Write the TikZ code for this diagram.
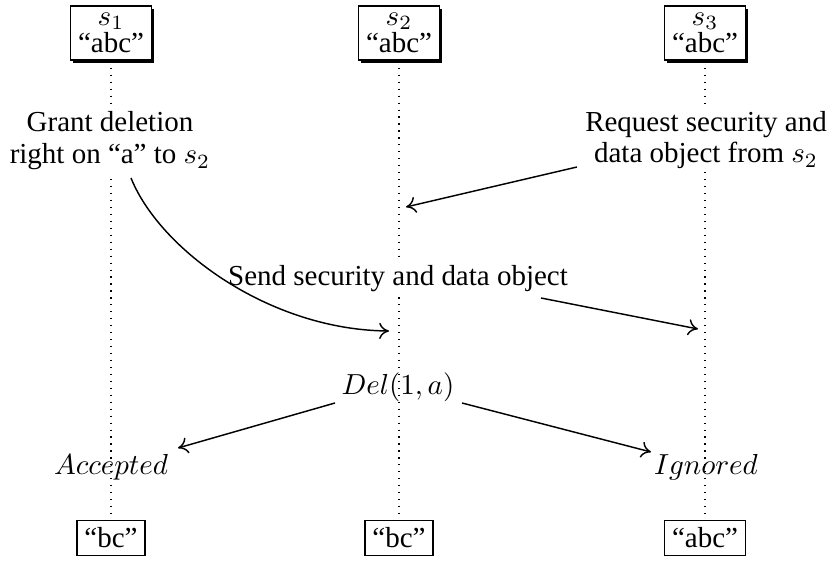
\documentclass[tikz,border=0pt]{standalone}
\usepackage{fontspec}
\setmainfont{Liberation Serif}
\usetikzlibrary{shadows,backgrounds,arrows.meta}
\begin{document}
\begin{tikzpicture}[x=0.345pt,y=-0.345pt,
  proc/.style={draw,fill=white,line width=0.5pt,inner xsep=2.6pt,inner ysep=2.4pt,align=center,
    font=\fontsize{10}{9.5}\selectfont,
    drop shadow={shadow xshift=1pt,shadow yshift=-1pt,fill=black,opacity=1}},
  state/.style={draw,fill=white,line width=0.5pt,inner sep=2.6pt},
  lbl/.style={fill=white,align=center,inner sep=1pt,font=\fontsize{10}{11}\selectfont},
  mlbl/.style={inner sep=1pt},
  life/.style={dotted,line width=0.4pt},
  msg/.style={-{To[length=3.4pt,width=5.6pt]},line width=0.5pt}]
\useasboundingbox (0,0) rectangle (829,561);
% top boxes
\node[proc] (p1) at (111,33) {$s_1$\\“abc”};
\node[proc] (p2) at (399,33) {$s_2$\\“abc”};
\node[proc] (p3) at (705,33) {$s_3$\\“abc”};
% bottom boxes
\node[state] (e1) at (111,538) {“bc”};
\node[state] (e2) at (399,538) {“bc”};
\node[state] (e3) at (705,538) {“abc”};
% labels
\node[lbl] (grant) at (110,141) {Grant deletion\\right on “a” to $s_2$};
\node[lbl] (req) at (706,140) {Request security and\\data object from $s_2$};
\node[lbl] (send) at (398,279) {Send security and data object};
\node[mlbl] (del) at (398,387) {$Del(1,a)$};
\node[mlbl] (acc) at (111,467) {$Accepted$};
\node[mlbl] (ign) at (706,467) {$Ignored$};
% lifelines
\begin{pgfonlayer}{background}
\draw[life] (p1.south) -- (e1.north);
\draw[life] (p2.south) -- (e2.north);
\draw[life] (p3.south) -- (e3.north);
\end{pgfonlayer}
% message endpoints
\coordinate (reqout) at (577,167);
\coordinate (reqin) at (406,207);
\coordinate (grantout) at (131,178);
\coordinate (grantin) at (389,331);
\coordinate (sendout) at (541,298);
\coordinate (sendin) at (698,329);
\coordinate (delL) at (335,403);
\coordinate (accin) at (178,448);
\coordinate (delR) at (462,403);
\coordinate (ignin) at (651,452);
\draw[msg] (reqout) -- (reqin);
\draw[msg] (grantout) .. controls (160,250) and (270,330) .. (grantin);
\draw[msg] (sendout) -- (sendin);
\draw[msg] (delL) -- (accin);
\draw[msg] (delR) -- (ignin);
\end{tikzpicture}
\end{document}
